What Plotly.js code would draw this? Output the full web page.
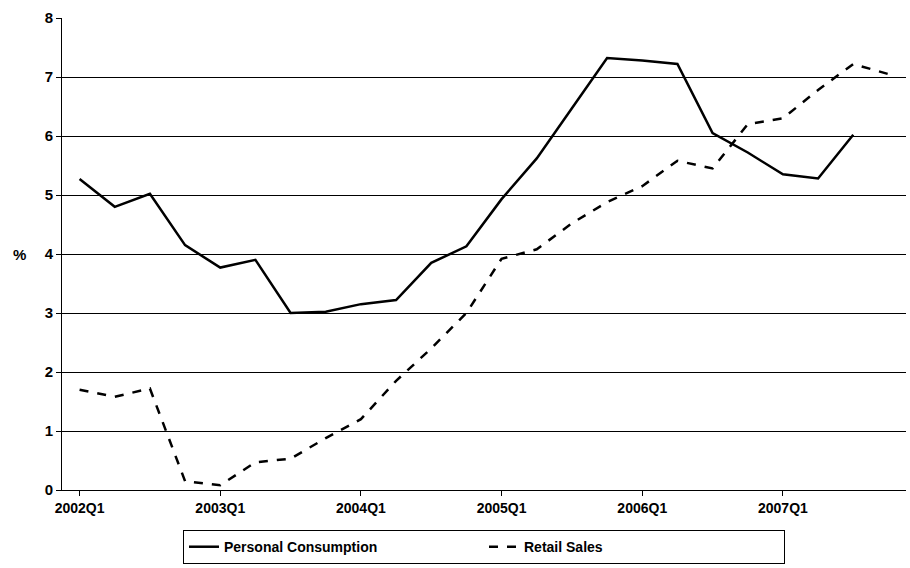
<!DOCTYPE html>
<html>
<head>
<script src="https://cdn.plot.ly/plotly-3.0.1.min.js"></script>
<style>body{margin:0}</style>
</head>
<body>
<div id="chart" style="width:910px;height:568px"></div>
<script>
const quarters = []
for (let y = 2002; y <= 2007; y++) for (let q = 1; q <= 4; q++) quarters.push(y + 'Q' + q)
const consumption = [5.27, 4.8, 5.02, 4.15, 3.77, 3.9, 3.0, 3.02, 3.15, 3.22, 3.85, 4.13, 4.93, 5.62, 6.47, 7.32, 7.28, 7.22, 6.05, 5.72, 5.35, 5.28, 6.02]
const retail = [1.7, 1.58, 1.72, 0.15, 0.08, 0.47, 0.53, 0.88, 1.2, 1.85, 2.4, 3.0, 3.92, 4.08, 4.52, 4.88, 5.15, 5.58, 5.45, 6.2, 6.3, 6.78, 7.22, 7.05]
const tickLabels = quarters.filter((q, i) => i % 4 == 0)

let data = [
  {x: quarters.slice(0, consumption.length), y: consumption, type: 'scatter', mode: 'lines',
   name: 'Personal Consumption', line: {color: '#000', width: 2.5}},
  {x: quarters, y: retail, type: 'scatter', mode: 'lines',
   name: 'Retail Sales', line: {color: '#000', width: 2.5, dash: 'dash'}}
]
let layout = {
  width: 910, height: 568,
  font: {family: 'Liberation Sans, Arial', size: 13, color: '#000'},
  showlegend: true,
  legend: {orientation: 'h', x: 0.5, xanchor: 'center', y: -0.085, yanchor: 'top',
           bordercolor: '#000', borderwidth: 1, font: {size: 14, weight: 'bold'}, entrywidth: 255},
  margin: {l: 62, r: 4, t: 18, b: 60},
  xaxis: {type: 'category', tickvals: tickLabels, ticktext: tickLabels, showgrid: false,
          showline: true, linecolor: '#000', ticks: 'outside', tickcolor: '#000',
          range: [-0.5, 23.5], tickfont: {weight: 'bold', size: 14}},
  yaxis: {range: [0, 8], dtick: 1, showgrid: true, gridcolor: '#000', gridwidth: 1,
          showline: true, linecolor: '#000', ticks: 'outside', tickcolor: '#000', zeroline: false,
          tickfont: {weight: 'bold', size: 15}},
  annotations: [{text: '%', xref: 'paper', yref: 'paper', x: -0.06, y: 0.5, showarrow: false,
                 font: {weight: 'bold', size: 15}}],
  plot_bgcolor: '#fff', paper_bgcolor: '#fff'
}
Plotly.newPlot('chart', data, layout, {displayModeBar: false})
</script>
</body>
</html>
